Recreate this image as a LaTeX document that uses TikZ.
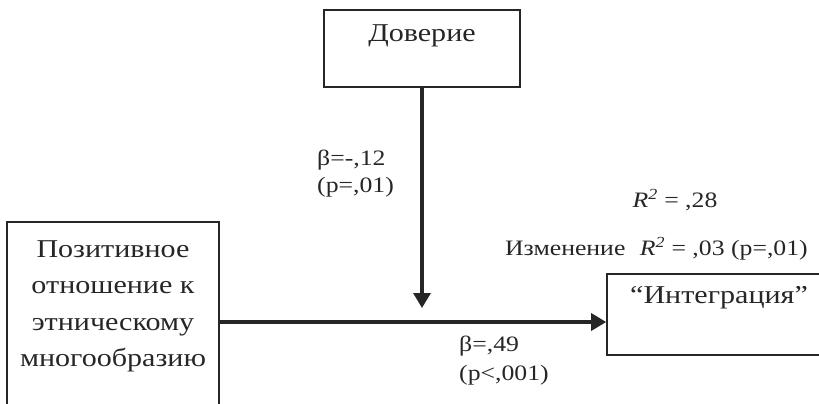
\documentclass[tikz,border=0pt]{standalone}
\usepackage{fontspec}
\setmainfont{Liberation Serif}[FakeStretch=1.17]
\usetikzlibrary{arrows.meta}
\definecolor{ink}{HTML}{262626}
\tikzset{
  boxshape/.style={draw=ink, line width=1.6pt, inner sep=0pt, fill=none},
  bigtext/.style={text=ink, inner sep=0pt, font=\fontsize{25.7}{36.5}\selectfont},
  lbl/.style={text=ink, inner sep=0pt, font=\fontsize{22}{27}\selectfont},
  arr/.style={draw=ink, line width=3.2pt, -{Triangle[length=15pt,width=17pt]}}
}
\begin{document}
\begin{tikzpicture}[x=1pt,y=-1pt]
\useasboundingbox (0,0) rectangle (819,404);
% boxes
\node[boxshape, minimum width=196pt, minimum height=77pt] (dov) at (422,48.5) {};
\node[boxshape, minimum width=212pt, minimum height=200pt] (pos) at (113,322) {};
\node[boxshape, minimum width=224pt, minimum height=81pt] (integ) at (719,314.5) {};
% box texts
\node[bigtext, anchor=base] (dovt) at (422,42) {Доверие};
\node[bigtext, anchor=north, align=center] (post) at (113,240) {Позитивное\\отношение к\\этническому\\многообразию};
\node[bigtext, anchor=base] (integt) at (719,303) {“Интеграция”};
% labels
\node[lbl, anchor=base west] (b1) at (317,165) {β=-,12};
\node[lbl, anchor=base west] (p1) at (317,192) {(p=,01)};
\node[lbl, anchor=base west] (b2) at (459,351) {β=,49};
\node[lbl, anchor=base west] (p2) at (459,380) {(p<,001)};
\node[lbl, anchor=base] (r2) at (675,207) {\textit{R}\textsuperscript{\textit{2}} = ,28};
\node[lbl, anchor=base east] (chg) at (808,255) {Изменение\hspace{8pt} \textit{R}\textsuperscript{\textit{2}} = ,03 (p=,01)};
% connectors
\coordinate (vtip) at (422,308);
\draw[arr] (dov.south) -- (vtip);
\draw[arr] (pos.east) -- (pos.east -| integ.west);
\end{tikzpicture}
\end{document}
